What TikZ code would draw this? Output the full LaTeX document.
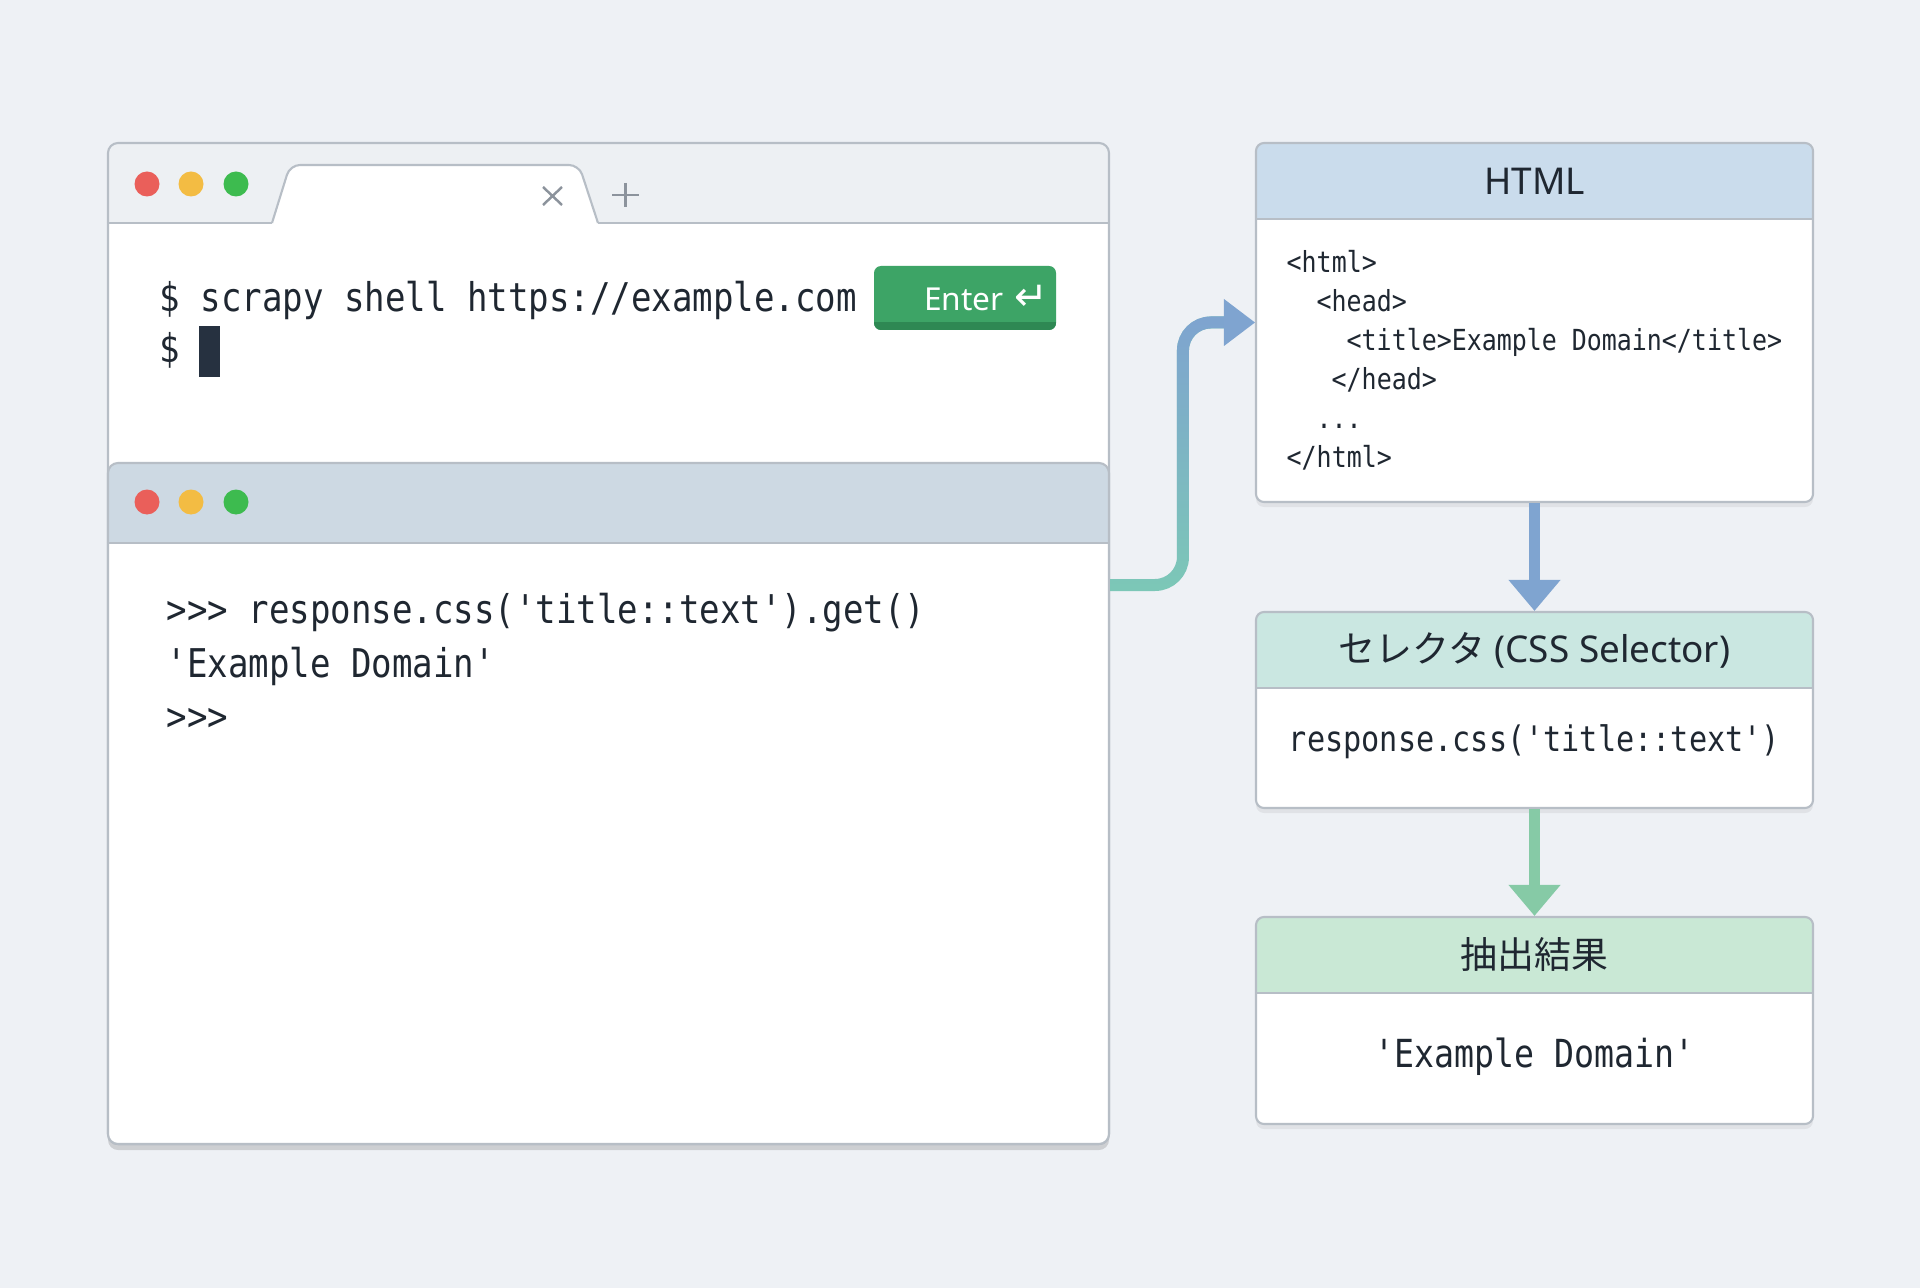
\documentclass[tikz,border=0pt]{standalone}
\usepackage{fontspec}
\setmainfont{Noto Sans}
\setmonofont[FakeStretch=0.86]{DejaVu Sans Mono}
\newfontfamily\jpfont{Noto Sans CJK JP}
\newfontfamily\symfont{DejaVu Sans}
\usepackage{xcolor}
\usetikzlibrary{arrows.meta,positioning,fadings,shadows}

\definecolor{bgcol}{HTML}{EEF1F5}
\definecolor{framecol}{HTML}{B7BEC6}
\definecolor{tabbar}{HTML}{EDF0F3}
\definecolor{shellbar}{HTML}{CDD9E3}
\definecolor{inkcol}{HTML}{1F2731}
\definecolor{iconcol}{HTML}{8C939C}
\definecolor{dotred}{HTML}{EA5F5A}
\definecolor{dotyellow}{HTML}{F3BC43}
\definecolor{dotgreen}{HTML}{3DBB4F}
\definecolor{keygreen}{HTML}{3DA466}
\definecolor{keydark}{HTML}{2E8853}
\definecolor{cursorcol}{HTML}{263140}
\definecolor{htmlhead}{HTML}{CADCEC}
\definecolor{selhead}{HTML}{CAE7E1}
\definecolor{reshead}{HTML}{C9E8D5}
\definecolor{flowblue}{HTML}{7FA4D0}
\definecolor{flowgreen}{HTML}{86CAA6}
\definecolor{flowteal}{HTML}{7CC8B7}

\tikzfading[name=fade up, top color=transparent!0, bottom color=transparent!100]

\begin{document}
\begin{tikzpicture}[
        >=Stealth,
        window/.style={
            draw=framecol,
            fill=white,
            rounded corners=0.1cm,
            line width=0.6pt,
            minimum width=10.01cm,
            inner sep=0pt,
            drop shadow={shadow xshift=0pt, shadow yshift=-0.06cm, opacity=0.07, fill=black},
            path picture={
                \fill[#1, sharp corners] (path picture bounding box.north west) rectangle ([yshift=-0.8cm]path picture bounding box.north east);
            }
        },
        card/.style={
            draw=framecol,
            fill=white,
            rounded corners=0.08cm,
            line width=0.6pt,
            minimum width=5.57cm,
            inner sep=0pt,
            drop shadow={shadow xshift=0pt, shadow yshift=-0.05cm, opacity=0.06, fill=black},
            path picture={
                \fill[#1, sharp corners] (path picture bounding box.north west) rectangle ([yshift=-0.76cm]path picture bounding box.north east);
                \draw[framecol, line width=0.6pt] ([yshift=-0.76cm]path picture bounding box.north west) -- ([yshift=-0.76cm]path picture bounding box.north east);
            }
        },
        keycap/.style={
            fill=keygreen,
            rounded corners=0.07cm,
            minimum height=0.64cm,
            text width=1.66cm,
            inner xsep=0.08cm,
            inner ysep=0pt,
            align=right,
            text=white,
            font=\fontsize{9}{10}\selectfont,
            path picture={
                \fill[keydark, sharp corners] ([yshift=0.08cm]path picture bounding box.south west) rectangle (path picture bounding box.south east);
            }
        },
        code/.style={font=\ttfamily\fontsize{11.27}{13.5}\selectfont, text=inkcol, inner sep=0pt, anchor=base west},
        htmlcode/.style={font=\ttfamily\fontsize{8.25}{10}\selectfont, text=inkcol, inner sep=0pt, anchor=base west},
        headtxt/.style={font=\fontsize{10.5}{12}\selectfont, text=inkcol, inner sep=0pt},
        icon/.style={draw=iconcol, line width=0.7pt},
        flow/.style={line width=0.11cm, -{Triangle[width=0.5cm, length=0.31cm]}},
        bendline/.style={line width=0.12cm, rounded corners=0.28cm}
    ]
        \useasboundingbox (0,0) rectangle (19.2,-12.88);
        \fill[bgcol] (0,0) rectangle (19.2,-12.88);

        % terminal window
        \node[window=tabbar, minimum height=10.01cm] (term) at (6.085,-6.435) {};
        \draw[framecol, line width=0.6pt] (term.west |- 0,-2.23) -- (2.72,-2.23) (5.98,-2.23) -- (term.east |- 0,-2.23);
        \filldraw[fill=white, draw=framecol, line width=0.6pt, rounded corners=0.1cm]
            (2.72,-2.23) -- (2.9,-1.65) -- (5.79,-1.65) -- (5.98,-2.23);
        \draw[icon] (5.43,-1.87) -- (5.62,-2.05) (5.43,-2.05) -- (5.62,-1.87);
        \draw[icon] (6.12,-1.95) -- (6.39,-1.95) (6.255,-1.83) -- (6.255,-2.07);

        \node[code] (cmd) at (1.59,-3.12) {\$ scrapy shell https://example.com};
        \node[keycap] (enter) at (9.65,-2.98) {Enter {\symfont\fontsize{11.5}{10}\selectfont ↵}};
        \node[code] (prompt) at (1.59,-3.63) {\$};
        \node[fill=cursorcol, minimum width=0.21cm, minimum height=0.51cm, inner sep=0pt] (cursor) at (2.095,-3.515) {};

        % scrapy shell window
        \node[window=shellbar, minimum height=6.81cm] (shell) at (6.085,-8.035) {};
        \draw[framecol, line width=0.6pt] (shell.west |- 0,-5.43) -- (shell.east |- 0,-5.43);

        \foreach \y in {-1.84,-5.02}
            \foreach \c/\x in {dotred/1.47, dotyellow/1.91, dotgreen/2.36}
                \fill[\c] (\x,\y) circle (0.125);

        \node[code] (query) at (1.66,-6.23) {>>> response.css('title::text').get()};
        \node[code] (answer) at (1.66,-6.77) {'Example Domain'};
        \node[code] (again) at (1.66,-7.30) {>>>};

        % right column
        \node[card=htmlhead, minimum height=3.59cm] (html) at (15.345,-3.225) {};
        \node[card=selhead, minimum height=1.96cm] (sel) at (15.345,-7.10) {};
        \node[card=reshead, minimum height=2.07cm] (res) at (15.345,-10.205) {};

        \node[headtxt] (htmltitle) at (15.345,-1.81) {HTML};
        \node[headtxt] (seltitle) at (15.345,-6.50) {{\jpfont セレクタ} (CSS Selector)};
        \node[headtxt] (restitle) at (15.345,-9.55) {\jpfont 抽出結果};

        \foreach \n/\ind/\txt in {0/0/{<html>}, 1/2/{<head>}, 2/4/{<title>Example Domain</title>}, 3/3/{</head>}, 4/2/{...}, 5/0/{</html>}}
            \node[htmlcode] (line\n) at ({12.86+0.15*\ind},{-2.73-0.388*\n}) {\txt};

        \node[font=\ttfamily\fontsize{10}{12}\selectfont, text=inkcol, inner sep=0pt] (selcode) at (15.345,-7.42) {response.css('title::text')};
        \node[font=\ttfamily\fontsize{11}{13}\selectfont, text=inkcol, inner sep=0pt] (resval) at (15.345,-10.57) {'Example Domain'};

        % connectors
        \draw[flow, flowblue] (html.south) -- (sel.north);
        \draw[flow, flowgreen] (sel.south) -- (res.north);

        \draw[bendline, flowteal] (shell.east |- 0,-5.85) -| ([xshift=-0.72cm]html.west) -- ([xshift=-0.28cm]html.west);
        \draw[bendline, flowblue, path fading=fade up] (shell.east |- 0,-5.85) -| ([xshift=-0.72cm]html.west) -- ([xshift=-0.28cm]html.west);
        \fill[flowblue] (html.west) -- ++(-0.31,0.235) -- ++(0,-0.47) -- cycle;
    \end{tikzpicture}
\end{document}
